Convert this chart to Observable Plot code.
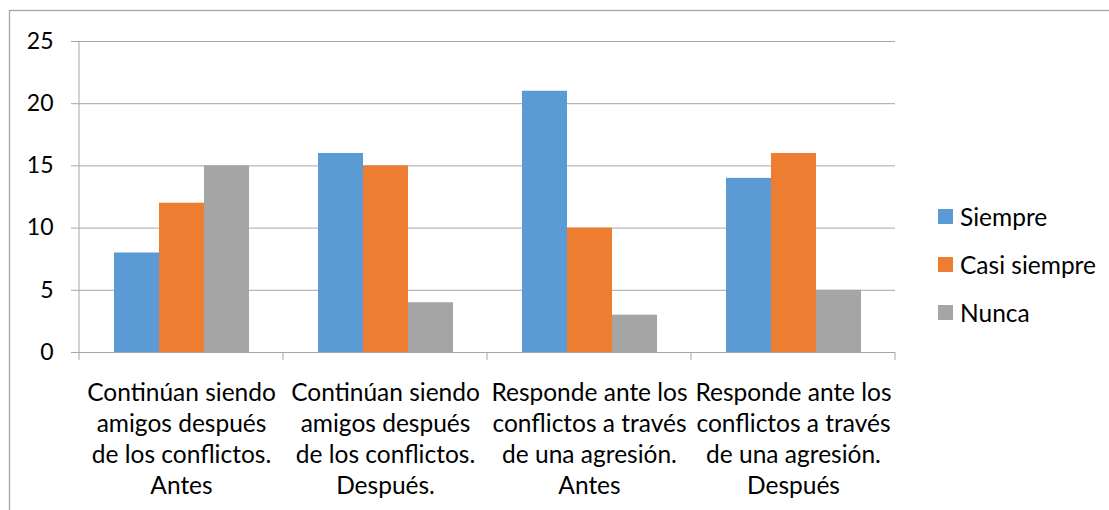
<!DOCTYPE html>
<html><head><meta charset="utf-8">
<script src="https://cdn.jsdelivr.net/npm/d3@7"></script>
<script src="https://cdn.jsdelivr.net/npm/@observablehq/plot@0.6"></script>
<style>
html,body{margin:0;padding:0;background:#fff;}
#wrap{position:relative;width:1109px;height:510px;overflow:hidden;font-family:Lato,sans-serif;}
#legend{position:absolute;left:938px;top:192px;}
.item{display:flex;align-items:center;height:48px;font-size:24.5px;color:#000;white-space:nowrap;}
.sw{width:15px;height:15px;margin-right:7px;flex:none;}
</style></head><body><div id="wrap"></div>
<script>
const categories = [
  "Continúan siendo\namigos después\nde los conflictos.\nAntes",
  "Continúan siendo\namigos después\nde los conflictos.\nDespués.",
  "Responde ante los\nconflictos a través\nde una agresión.\nAntes",
  "Responde ante los\nconflictos a través\nde una agresión.\nDespués"
];
const series = ["Siempre", "Casi siempre", "Nunca"];
const siempre = [8, 16, 21, 14];
const casiSiempre = [12, 15, 10, 16];
const nunca = [15, 4, 3, 5];
const yTicks = [0, 5, 10, 15, 20, 25];
const colors = ["#5B9BD5", "#ED7D31", "#A5A5A5"];

const valuesBySeries = [siempre, casiSiempre, nunca];
const table = [];
categories.forEach((c, i) => series.forEach((s, j) => table.push({cat: c, series: s, value: valuesBySeries[j][i]})));

const gridColor = "#a6a6a6";

const chart = Plot.plot({
  width: 1109, height: 510,
  marginLeft: 78, marginRight: 214, marginTop: 41, marginBottom: 158,
  style: {fontFamily: "Lato, sans-serif", color: "#000", background: "transparent", overflow: "visible"},
  fx: {domain: categories, padding: 0, label: null},
  x: {domain: series, paddingInner: 0, paddingOuter: 0.742, axis: null},
  y: {domain: [0, 25], label: null},
  color: {domain: series, range: colors},
  marks: [
    Plot.ruleY(yTicks, {stroke: gridColor, strokeWidth: 1}),
    Plot.barY(table, {fx: "cat", x: "series", y: "value", fill: "series"}),
    Plot.axisY({ticks: yTicks, tickSize: 8, tickPadding: 18, stroke: gridColor, fill: "#000", fontSize: 23, label: null}),
    Plot.axisFx({anchor: "bottom", tickSize: 0, tickPadding: 27, fontSize: 24.5, lineHeight: 1.26, fill: "#000", label: null})
  ]
});

document.getElementById("wrap").appendChild(chart);

// decorations via the chart's scales
const fx = chart.scale("fx"), y = chart.scale("y");
const y0 = y.apply(0), yTop = y.apply(25);
const bounds = categories.map(c => fx.apply(c));
bounds.push(bounds[bounds.length - 1] + fx.bandwidth);
const svg = d3.select(chart);
svg.append("rect").attr("x", 9.5).attr("y", 10.5).attr("width", 1200).attr("height", 600)
  .attr("fill", "none").attr("stroke", gridColor).attr("stroke-width", 1.3);
svg.append("line").attr("x1", bounds[0]).attr("x2", bounds[0]).attr("y1", yTop).attr("y2", y0)
  .attr("stroke", gridColor);
svg.selectAll("line.bt").data(bounds).join("line").attr("class", "bt")
  .attr("x1", d => d).attr("x2", d => d).attr("y1", y0).attr("y2", y0 + 8)
  .attr("stroke", gridColor);

// legend from the color scale
const color = chart.scale("color");
const legend = d3.select("#wrap").append("div").attr("id", "legend");
const items = legend.selectAll("div").data(series).join("div").attr("class", "item");
items.append("span").attr("class", "sw").style("background", d => color.apply(d));
items.append("span").text(d => d);
</script></body></html>
